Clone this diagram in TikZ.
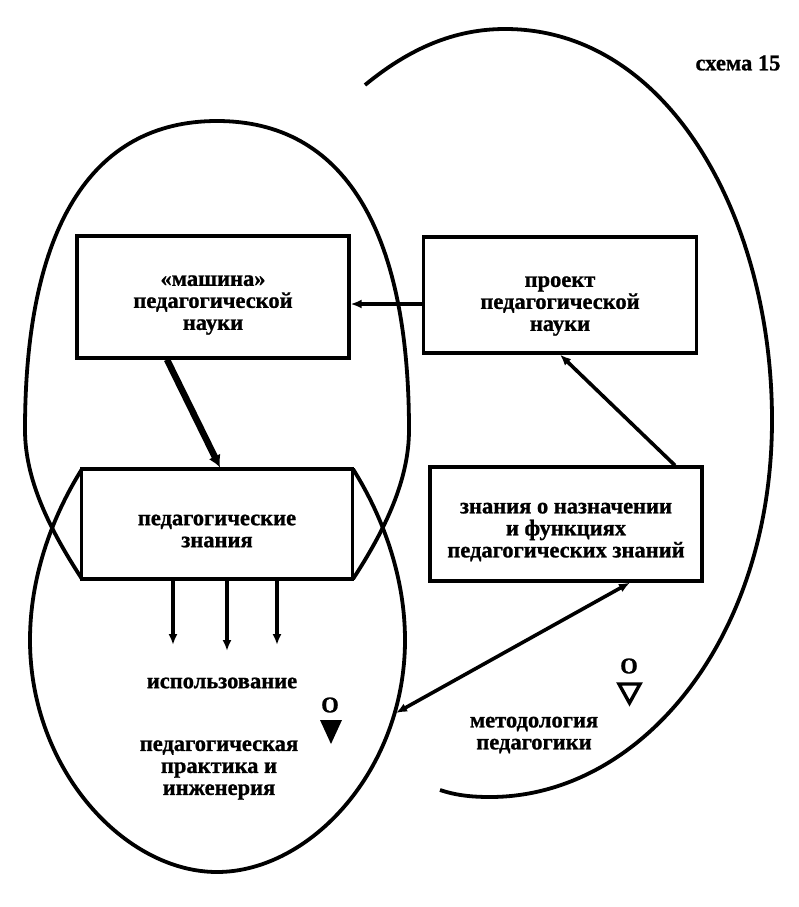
\documentclass[tikz,border=0pt]{standalone}
\usepackage{fontspec}
\setmainfont{Liberation Serif}[BoldFeatures={FakeBold=1}]
\usetikzlibrary{arrows.meta}

\begin{document}
\begin{tikzpicture}[x=1pt,y=-1pt,
  box/.style={draw=black,line width=3.2pt,inner sep=0pt},
  lbl/.style={align=center,font=\bfseries\fontsize{22.5}{22}\selectfont},
  link/.style={line width=3.6pt,-{Latex[length=11pt,width=9pt]}},
  oval/.style={line width=3.8pt}]
\useasboundingbox (0,0) rectangle (799,907);
\node[box,minimum width=272pt,minimum height=122pt] (M) at (213,297) {};
\node[box,minimum width=273pt,minimum height=116pt] (P) at (560,295) {};
\node[box,minimum width=271pt,minimum height=110pt] (K) at (217,524) {};
\node[box,minimum width=272pt,minimum height=114pt] (Z) at (566,524) {};
\node[lbl] (Mt) at (213,305) {«машина»\\педагогической\\науки};
\node[lbl] (Pt) at (560,306) {проект\\педагогической\\науки};
\node[lbl] (Kt) at (217,531) {педагогические\\знания};
\node[lbl] (Zt) at (566,532) {знания о назначении\\и функциях\\педагогических знаний};
\node[lbl] (T) at (738,63) {схема 15};
\node[lbl] (U) at (222,683) {использование};
\node[lbl] (PR) at (219,770) {педагогическая\\практика и\\инженерия};
\node[lbl] (MT) at (534,735) {методология\\педагогики};
\node[lbl] (O1) at (330,705) {O};
\node[lbl] (O2) at (629,666) {O};
\coordinate (use) at (396,713);
% ovals
\draw[oval] (82,579) .. controls (50,530) and (25,480) .. (25,430)
  .. controls (25,230) and (90,121) .. (217,121)
  .. controls (344,121) and (409,230) .. (409,430)
  .. controls (409,480) and (385,530) .. (353,579);
\draw[oval] (82,469) .. controls (50,520) and (30,580) .. (30,640)
  .. controls (30,770) and (125,872) .. (217,872)
  .. controls (310,872) and (405,770) .. (405,640)
  .. controls (405,580) and (385,520) .. (353,469);
\draw[oval] (365,85) .. controls (410,48) and (455,29) .. (505,29)
  .. controls (670,29) and (772,220) .. (772,420)
  .. controls (772,640) and (640,797) .. (490,797)
  .. controls (470,797) and (455,795) .. (440,790);
% arrows
\draw[link] (P.west |- 0,304) -- (M.east |- 0,304);
\draw[line width=6.5pt,-{Latex[length=12pt,width=13pt]}] (M.south -| 167,0) -- (K.north -| 220,0);
\draw[link] (Z.north -| 675,0) -- (P.south -| 560,0);
\draw[link,{Latex[length=11pt,width=9pt]}-{Latex[length=11pt,width=9pt]}] (use) -- (Z.south -| 630,0);
\foreach \x/\y in {173/645,227/651,277/645}
  \draw[link] (K.south -| \x,0) -- (\x,\y);
% marks
\fill (320,720) -- (342,720) -- (331,744) -- cycle;
\draw[line width=3.4pt] (619,684) -- (640,684) -- (629.5,703) -- cycle;
\end{tikzpicture}
\end{document}
